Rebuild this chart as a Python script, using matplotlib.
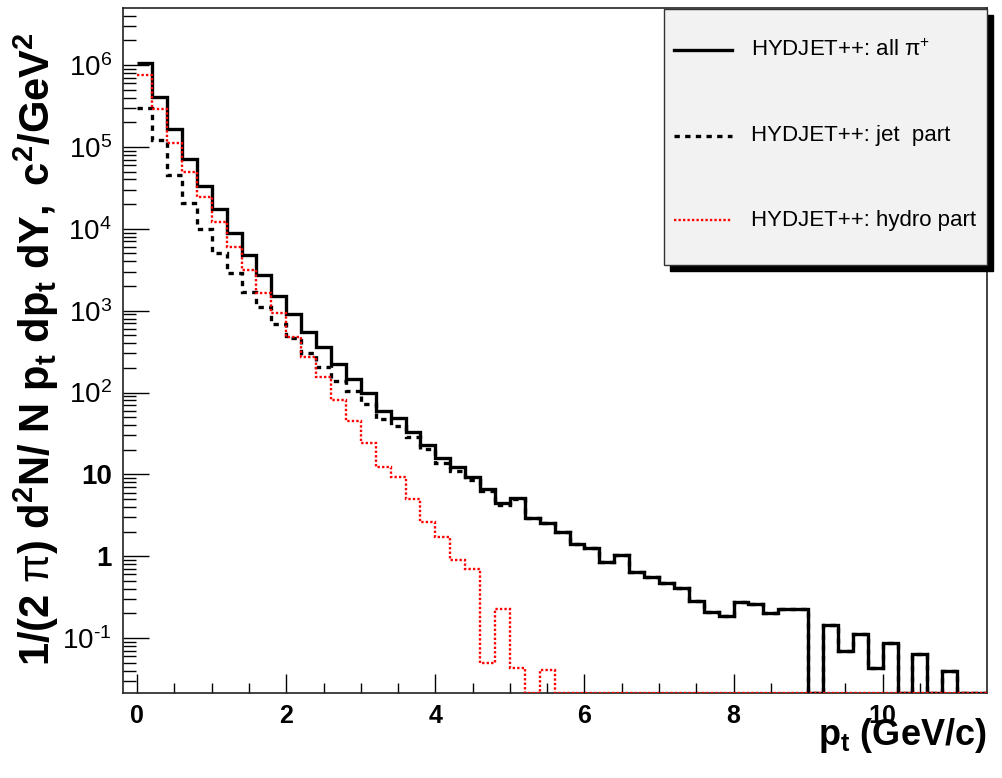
import numpy as np
import matplotlib
matplotlib.use("Agg")
import matplotlib.pyplot as plt
from matplotlib.patches import Rectangle
from matplotlib.lines import Line2D
from matplotlib.ticker import LogLocator, NullFormatter, MultipleLocator

# bin edges in p_t (GeV/c), 0.2 wide
pt_edges = np.round(np.arange(58) * 0.2, 1)

# HYDJET++: all pi+
all_pi = [1.05e6, 4.1e5, 1.64e5, 7.2e4, 3.36e4, 1.73e4, 8.9e3, 4.8e3, 2.7e3, 1.52e3,
          900, 555, 355, 221, 147, 98, 59.6, 48.5, 33.3, 22.9,
          15.8, 12.2, 9.4, 6.6, 4.45, 5.1, 2.9, 2.57, 2.0, 1.41,
          1.26, 0.84, 1.04, 0.65, 0.565, 0.477, 0.407, 0.285, 0.206, 0.189,
          0.275, 0.262, 0.202, 0.228, 0.228, 0, 0.143, 0.0687, 0.112, 0.043,
          0.087, 0, 0.064, 0, 0.040, 0, 0]

# HYDJET++: jet part
jet_part = [2.96e5, 1.21e5, 4.5e4, 2.08e4, 9.9e3, 5.0e3, 2.86e3, 1.7e3, 1.1e3, 689,
            460, 302, 207, 140, 103, 72, 47.6, 39.5, 28.5, 20.3,
            13.7, 11.1, 8.6, 6.2, 4.25, 5.0, 2.9, 2.53, 2.0, 1.41,
            1.26, 0.84, 1.04, 0.65, 0.565, 0.477, 0.407, 0.285, 0.206, 0.189,
            0.275, 0.262, 0.202, 0.228, 0.228, 0, 0.143, 0.0687, 0.112, 0.043,
            0.087, 0, 0.064, 0, 0.040, 0, 0]

# HYDJET++: hydro part
hydro_part = [7.5e5, 2.9e5, 1.13e5, 5.0e4, 2.47e4, 1.2e4, 6.05e3, 3.14e3, 1.63e3, 933,
              473, 275, 156, 81, 45, 24.4, 12.2, 9.4, 5.0, 2.65,
              1.74, 0.90, 0.695, 0.0495, 0.226, 0.043, 0, 0.041, 0, 0,
              0, 0, 0, 0, 0, 0, 0, 0, 0, 0,
              0, 0, 0, 0, 0, 0, 0, 0, 0, 0,
              0, 0, 0, 0, 0, 0, 0]

legend_labels = [r"HYDJET++: all $\mathrm{\pi}^{+}$", "HYDJET++: jet  part", "HYDJET++: hydro part"]

ymin, ymax = 0.0214, 4.97e6

plt.rc('font', family=['Liberation Sans', 'DejaVu Sans'])
plt.rc('mathtext', fontset='custom', rm='Liberation Sans', bf='Liberation Sans:bold',
       it='Liberation Sans:italic', sf='Liberation Sans')

fig = plt.figure(figsize=(10.02, 7.78), dpi=100)
ax = fig.add_axes([0.1228, 0.1093, 0.8622, 0.8804])


def floor(v):
    # empty bins are drawn along the bottom of the frame
    v = np.asarray(v, dtype=float)
    return np.where(v > 0, v, ymin)


ax.stairs(floor(all_pi), pt_edges, baseline=None, color='black', lw=2.4, zorder=3)
ax.stairs(floor(jet_part), pt_edges, baseline=None, color='black', lw=2.4,
          linestyle=(0, (1.6, 1.6)), zorder=4)
ax.stairs(floor(hydro_part), pt_edges, baseline=None, color='red', lw=1.7,
          linestyle=(0, (1, 0.9)), zorder=5)

ax.set_yscale('log')
ax.set_xlim(-0.19, 11.4)
ax.set_ylim(ymin, ymax)

# axis ticks, root style
ax.xaxis.set_minor_locator(MultipleLocator(0.5))
ax.set_xticks([0, 2, 4, 6, 8, 10])
ax.set_xticklabels(['0', '2', '4', '6', '8', '10'], fontsize=18, fontweight='bold')

yt = [1e-1, 1, 10, 1e2, 1e3, 1e4, 1e5, 1e6]
ytl = [r'$10^{' + '\u2010' + '1}$', '1', '10', r'$10^{2}$', r'$10^{3}$', r'$10^{4}$',
       r'$10^{5}$', r'$10^{6}$']
ax.set_yticks(yt)
ax.set_yticklabels(ytl, fontsize=20)
for lab in ax.get_yticklabels():
    if lab.get_text() in ('1', '10'):
        lab.set_fontweight('bold')
ax.yaxis.set_minor_locator(LogLocator(base=10, subs=np.arange(2, 10)))
ax.yaxis.set_minor_formatter(NullFormatter())

ax.tick_params(axis='x', which='major', direction='in', length=14, width=1, pad=8)
ax.tick_params(axis='x', which='minor', direction='in', length=7, width=1)
ax.tick_params(axis='y', which='major', direction='in', length=19, width=1, pad=8)
ax.tick_params(axis='y', which='minor', direction='in', length=9, width=1)
for s in ax.spines.values():
    s.set_linewidth(1.2)
    s.set_color('#222222')

fig.text(0.985, 0.042, r'$\mathbf{p_{t}}$' + ' (GeV/c)', fontsize=26, fontweight='bold',
         ha='right', va='baseline')
fig.text(0.036, 0.551,
         r'$\mathbf{1/(2}\ \mathrm{\pi}\mathbf{)\ d^{2}N/\ N\ p_{t}\ dp_{t}\ dY,\ c^{2}/GeV^{2}}$',
         fontsize=30, rotation=90, ha='center', va='center')

# legend box with shadow
bx0, bx1, by0, by1 = 0.6627, 0.985, 0.6594, 0.9884
fig.patches.append(Rectangle((bx0 + 0.006, by0 - 0.0077), bx1 - bx0, by1 - by0,
                             transform=fig.transFigure, facecolor='black',
                             edgecolor='black', zorder=10))
fig.patches.append(Rectangle((bx0, by0), bx1 - bx0, by1 - by0, transform=fig.transFigure,
                             facecolor='#f2f2f2', edgecolor='#333333', lw=1, zorder=11))
entry_y = [0.9357, 0.8252, 0.7172]
styles = [dict(color='black', lw=2.4, linestyle='-'),
          dict(color='black', lw=2.4, linestyle=(0, (1.6, 1.6))),
          dict(color='red', lw=1.7, linestyle=(0, (1, 0.9)))]
for y, lab, st in zip(entry_y, legend_labels, styles):
    fig.lines.append(Line2D([0.6727, 0.7305], [y, y], transform=fig.transFigure,
                            zorder=12, **st))
    fig.text(0.7495, y, lab, fontsize=16, ha='left', va='center', zorder=12)

fig.savefig('out.png', dpi=100)
